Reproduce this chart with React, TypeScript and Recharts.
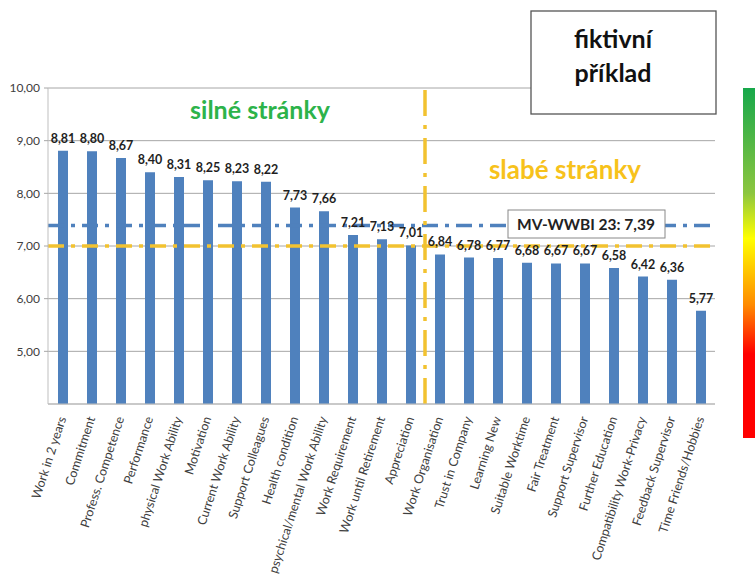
import React from "react";
import {
  BarChart,
  Bar,
  XAxis,
  YAxis,
  CartesianGrid,
  ReferenceLine,
  LabelList,
} from "recharts";

const categories = [
  "Work in 2 years",
  "Commitment",
  "Profess. Competence",
  "Performance",
  "physical Work Ability",
  "Motivation",
  "Current Work Ability",
  "Support Colleagues",
  "Health condition",
  "psychical/mental Work Ability",
  "Work Requirement",
  "Work until Retirement",
  "Appreciation",
  "Work Organisation",
  "Trust in Company",
  "Learning New",
  "Suitable Worktime",
  "Fair Treatment",
  "Support Supervisor",
  "Further Education",
  "Compatibility Work-Privacy",
  "Feedback Supervisor",
  "Time Friends/Hobbies",
];

const scores = [
  8.81, 8.8, 8.67, 8.4, 8.31, 8.25, 8.23, 8.22, 7.73, 7.66, 7.21, 7.13, 7.01,
  6.84, 6.78, 6.77, 6.68, 6.67, 6.67, 6.58, 6.42, 6.36, 5.77,
];

const yTicks = [5, 6, 7, 8, 9, 10];

// average of the index and the strong/weak threshold
const wwbiMean = 7.39;
const threshold = 7.0;
const lastStrong = "Appreciation";

const data = categories.map((name, i) => ({ name, score: scores[i] }));

const fmt = (v: number) => v.toFixed(2).replace(".", ",");

const FONT = "Lato, 'Open Sans', sans-serif";
const BLUE = "#4F81BD";
const YELLOW = "#F2C230";

const CategoryTick = (props: any) => {
  const { x, y, payload } = props;
  return (
    <text
      x={x}
      y={y + 5}
      dy={4}
      transform={`rotate(-72 ${x} ${y + 5})`}
      textAnchor="end"
      fontSize={12.5}
      fontFamily={FONT}
      fill="#404040"
    >
      {payload.value}
    </text>
  );
};

export default function App() {
  return (
    <div
      style={{
        position: "absolute",
        left: 0,
        top: 0,
        width: 755,
        height: 574,
        background: "#fff",
      }}
    >
      <BarChart
        width={755}
        height={574}
        data={data}
        margin={{ top: 88, right: 40, left: 8, bottom: 0 }}
      >
        <CartesianGrid vertical={false} stroke="#a6a6a6" />
        <XAxis
          dataKey="name"
          interval={0}
          height={170}
          tickLine={false}
          axisLine={{ stroke: "#bfbfbf" }}
          tick={<CategoryTick />}
        />
        <YAxis
          width={40}
          domain={[4, 10]}
          ticks={yTicks}
          tickFormatter={fmt}
          tickSize={4}
          tickMargin={4}
          axisLine={{ stroke: "#bfbfbf" }}
          tickLine={{ stroke: "#a6a6a6" }}
          tick={{ fontSize: 12, fontFamily: FONT, fill: "#404040" }}
        />
        <Bar dataKey="score" fill={BLUE} barSize={10} isAnimationActive={false}>
          <LabelList
            dataKey="score"
            position="top"
            offset={8}
            formatter={(v: any) => fmt(Number(v))}
            style={{
              fontSize: 12.5,
              fontWeight: 700,
              fontFamily: FONT,
              fill: "#1f1f1f",
            }}
          />
        </Bar>
        <ReferenceLine
          y={threshold}
          stroke={YELLOW}
          strokeWidth={3.5}
          strokeDasharray="16 7 4 7"
        />
        <ReferenceLine
          y={wwbiMean}
          stroke={BLUE}
          strokeWidth={3.5}
          strokeDasharray="16 7 4 7"
        />
        <ReferenceLine
          x={lastStrong}
          position="end"
          stroke={YELLOW}
          strokeWidth={3.5}
          strokeDasharray="26 9 4 9"
        />
      </BarChart>

      <svg
        width={755}
        height={574}
        style={{ position: "absolute", left: 0, top: 0, pointerEvents: "none" }}
      >
        <defs>
          <linearGradient id="scale" x1="0" y1="0" x2="0" y2="1">
            <stop offset="0" stopColor="#17A84B" />
            <stop offset="0.3" stopColor="#8CC63F" />
            <stop offset="0.43" stopColor="#FFFF00" />
            <stop offset="0.62" stopColor="#FF8A00" />
            <stop offset="0.76" stopColor="#FF0000" />
            <stop offset="1" stopColor="#FF0000" />
          </linearGradient>
        </defs>
        <rect x={743} y={88} width={12} height={350} fill="url(#scale)" />

        <rect x={531} y={11} width={185} height={103} fill="#fff" stroke="#555" strokeWidth={1.3} />
        <text
          x={613}
          y={48}
          textAnchor="middle"
          fontSize={25}
          fontWeight={700}
          fontFamily={FONT}
          fill="#111"
        >
          fiktivní
        </text>
        <text
          x={613}
          y={82}
          textAnchor="middle"
          fontSize={25}
          fontWeight={700}
          fontFamily={FONT}
          fill="#111"
        >
          příklad
        </text>

        <text
          x={260}
          y={119}
          textAnchor="middle"
          fontSize={25}
          fontWeight={700}
          fontFamily={FONT}
          fill="#2DB34A"
        >
          silné stránky
        </text>
        <text
          x={565}
          y={179}
          textAnchor="middle"
          fontSize={26}
          fontWeight={700}
          fontFamily={FONT}
          fill="#F7C21B"
        >
          slabé stránky
        </text>

        <rect x={508} y={210} width={157} height={28} fill="#fff" stroke="#888" strokeWidth={1} />
        <text
          x={586}
          y={230}
          textAnchor="middle"
          fontSize={15.5}
          fontWeight={700}
          fontFamily={FONT}
          fill="#222"
        >
          {`MV-WWBI 23: ${fmt(wwbiMean)}`}
        </text>
      </svg>
    </div>
  );
}
